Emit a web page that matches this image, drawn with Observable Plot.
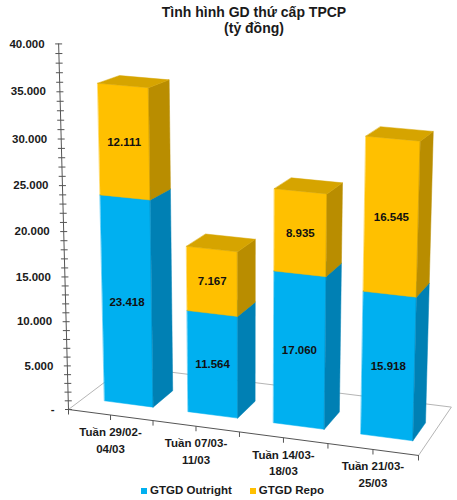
<!DOCTYPE html>
<html><head><meta charset="utf-8">
<script src="https://cdn.jsdelivr.net/npm/d3@7"></script>
<script src="https://cdn.jsdelivr.net/npm/@observablehq/plot@0.6"></script>
<style>
body{margin:0;background:#fff;font-family:Arial,"Liberation Sans",sans-serif;}
#wrap{width:457px;height:500px;position:relative;overflow:hidden;background:#fff}
#title{height:36px;box-sizing:border-box;padding-top:4px;padding-left:51px;text-align:center;font-weight:bold;font-size:14px;line-height:16px;color:#1a1a1a}
#legend{height:16px;display:flex;justify-content:center;align-items:center;gap:18px;font-weight:bold;font-size:11.5px;color:#1a1a1a;padding-left:8px;box-sizing:border-box;position:relative}
.sw{display:inline-block;width:6px;height:6px;margin-right:3px;vertical-align:middle}
#chart svg{overflow:visible}
</style></head><body>
<div id="wrap">
<div id="title">Tình hình GD thứ cấp TPCP<br>(tỷ đồng)</div>
<div id="chart"></div>
<div id="legend"></div>
</div>
<script>
// ---- data ----
const categories = ["Tuần 29/02-\n04/03", "Tuần 07/03-\n11/03", "Tuần 14/03-\n18/03", "Tuần 21/03-\n25/03"];
const outright = [23418, 11564, 17060, 15918];
const repo = [12111, 7167, 8935, 16545];
const seriesNames = ["GTGD Outright", "GTGD Repo"];
const yTicks = [0, 5000, 10000, 15000, 20000, 25000, 30000, 35000, 40000];
const yTickLabels = ["-", "5.000", "10.000", "15.000", "20.000", "25.000", "30.000", "35.000", "40.000"];

// ---- styles ----
const faceColors = [
  {front: "#00B0F0", side: "#0080B4", top: "#0098D2"},
  {front: "#FFC000", side: "#B98D00", top: "#D6A400"}
];
const W = 457, H = 446, TOP = 36;

// ---- 3D perspective projection (category position u, depth w, value v) ----
const O = [68, 409, 1];
const CU = [331.2, 25.5, -0.045];
const CW = [66.81, -14.23, 0.0786];
const CV = [-0.3224, -9.196, -0.0013]; // per 1000 units
function project(u, w, v) {
  const k = v / 1000;
  const X = O[0] + CU[0]*u + CW[0]*w + CV[0]*k;
  const Y = O[1] + CU[1]*u + CW[1]*w + CV[1]*k;
  const Z = O[2] + CU[2]*u + CW[2]*w + CV[2]*k;
  return [X / Z, Y / Z];
}
const n = categories.length;
const fmt = d3.formatLocale({decimal: ",", thousands: ".", grouping: [3], currency: ["", ""]}).format(",d");

// floor outline
const floorBack = [];
[[0,0],[0,1],[1,1],[1,0]].forEach(([u,w]) => { const [x,y] = project(u,w,0); floorBack.push({id:"f", x, y}); });
const floorFront = [[0,0],[1,0]].map(([u,w]) => { const [x,y] = project(u,w,0); return {x, y}; });
const floorTicks = d3.range(0, 2*n + 1).map(k => { const [x,y] = project(k/(2*n), 0, 0); return {x, y}; });

// axis
const axisLine = [0, 40000].map(v => { const [x,y] = project(0,0,v); return {x, y}; });
const minorTicks = d3.range(0, 40001, 1000).map(v => { const [x,y] = project(0,0,v); return {x, y}; });
const axisLabels = yTicks.map((v, i) => { const [x,y] = project(0,0,v); return {x, y, label: yTickLabels[i]}; });

// bars
const w0 = 0.25, w1 = 0.62, half = 0.073;
const faces = [], shadows = [], valueLabels = [], catLabels = [];
function addPoly(arr, id, fill, pts) { pts.forEach(([u,w,v]) => { const [x,y] = project(u,w,v); arr.push({id, fill, x, y}); }); }
categories.forEach((c, i) => {
  const uc = (i + 0.5) / n + 0.012, u0 = uc - half, u1 = uc + half;
  addPoly(shadows, "s" + i, "#000", [[u0-0.035, w0-0.06, 0], [u1, w0-0.06, 0], [u1, w1, 0], [u0-0.035, w1, 0]]);
  const segs = [[0, outright[i]], [outright[i], outright[i] + repo[i]]];
  segs.forEach(([a, b], s) => {
    const col = faceColors[s];
    addPoly(faces, `b${i}s${s}f`, col.front, [[u0,w0,a],[u1,w0,a],[u1,w0,b],[u0,w0,b]]);
    addPoly(faces, `b${i}s${s}r`, col.side, [[u1,w0,a],[u1,w1,a],[u1,w1,b],[u1,w0,b]]);
    addPoly(faces, `b${i}s${s}t`, col.top, [[u0,w0,b],[u1,w0,b],[u1,w1,b],[u0,w1,b]]);
    const [x, y] = project(uc, w0, (a + b) / 2);
    valueLabels.push({x, y, label: fmt(b - a)});
  });
  const [cx, cy] = project((i + 0.5) / n, 0, 0);
  catLabels.push({x: cx, y: cy, label: c});
});

const plot = Plot.plot({
  width: W, height: H,
  marginLeft: 0, marginRight: 0, marginTop: 0, marginBottom: 0,
  x: {type: "linear", domain: [0, W], range: [0, W], axis: null},
  y: {type: "linear", domain: [TOP, TOP + H], range: [0, H], axis: null},
  color: {type: "identity"},
  style: {fontFamily: "Arial, 'Liberation Sans', sans-serif", overflow: "visible"},
  marks: [
    Plot.line(floorBack, {x: "x", y: "y", stroke: "#b5b5b5", strokeWidth: 1}),
    Plot.line(shadows, {x: "x", y: "y", z: "id", curve: "linear-closed", fill: "#000", fillOpacity: 0.6, stroke: "none", ariaLabel: "shadow"}),
    Plot.line(floorFront, {x: "x", y: "y", stroke: "#555", strokeWidth: 1}),
    Plot.link(floorTicks, {x1: "x", y1: "y", x2: "x", y2: d => d.y + 5, stroke: "#555", strokeWidth: 1}),
    Plot.line(axisLine, {x: "x", y: "y", stroke: "#555", strokeWidth: 1}),
    Plot.link(minorTicks, {x1: d => d.x - 3.5, y1: "y", x2: d => d.x + 3.5, y2: "y", stroke: "#555", strokeWidth: 1}),
    Plot.text(axisLabels, {x: "x", y: "y", text: "label", textAnchor: "end", dx: -14, fontWeight: "bold", fontSize: 11.5, fill: "#1a1a1a"}),
    Plot.line(faces, {x: "x", y: "y", z: "id", curve: "linear-closed", fill: "fill", stroke: "fill", strokeWidth: 0.5}),
    Plot.text(valueLabels, {x: "x", y: "y", text: "label", fontWeight: "bold", fontSize: 11.5, fill: "#111"}),
    Plot.text(catLabels, {x: "x", y: "y", text: "label", dy: 24, lineHeight: 1.45, fontWeight: "bold", fontSize: 11.5, fill: "#1a1a1a"})
  ]
});

// soft blur for shadows
const svg = d3.select(plot);
svg.insert("defs", ":first-child").append("filter").attr("id", "shblur")
  .attr("x", "-50%").attr("y", "-50%").attr("width", "200%").attr("height", "200%")
  .append("feGaussianBlur").attr("stdDeviation", 3.5);
svg.selectAll('[aria-label="shadow"]').attr("filter", "url(#shblur)");
document.getElementById("chart").appendChild(plot);

// legend
const legend = d3.select("#legend");
seriesNames.forEach((s, i) => {
  const item = legend.append("span");
  item.append("span").attr("class", "sw").style("background", faceColors[i].front);
  item.append("span").text(s);
});
</script>
</body></html>
